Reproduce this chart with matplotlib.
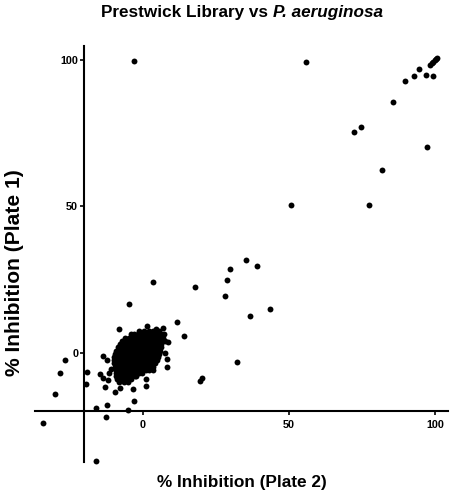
import matplotlib
matplotlib.use("Agg")
import matplotlib.pyplot as plt

plt.rcParams['font.family'] = ['Liberation Sans', 'DejaVu Sans']

# ---- data ----
# outlying compounds: % inhibition plate 2 (x) vs plate 1 (y)
out_x = [-3.0, 55.8, 98.3, 98.9, 99.4, 99.9, 100.3, 100.6, 94.5, 92.8, 97.0, 99.4,
         89.6, 85.5, 74.5, 72.4, 97.1, 81.9, 50.7, 77.4, 35.2, 39.2, 29.9, 28.8,
         17.9, 28.2, 43.4, 36.7, 14.1, 32.2, 20.2, 19.6, 3.3, -4.8, 11.6, -8.1,
         -26.7, -28.3, -29.9, -34.2, -19.2, -19.4, -15.9, -12.6, -12.4, -5.2,
         -3.1, -16.0, 1.1, 1.1, -3.4, -7.8, -9.5, -13.1, -13.6, -14.8, -11.8,
         -11.7, -11.0, -13.5, -12.4, 7.6, 8.2, 8.3, 7.6, 1.3, 4.5, 7.0, 8.7, 3.4]
out_y = [99.7, 99.4, 98.2, 98.9, 99.4, 99.9, 100.3, 100.6, 96.8, 94.6, 94.8, 94.4,
         92.7, 85.8, 77.2, 75.4, 70.4, 62.5, 50.6, 50.6, 31.5, 29.5, 28.7, 24.8,
         22.5, 19.2, 15.0, 12.5, 5.8, -3.1, -8.6, -9.8, 24.1, 16.7, 10.3, 8.2,
         -2.7, -6.9, -14.1, -24.1, -6.6, -10.9, -19.0, -22.1, -17.9, -19.6,
         -16.5, -37.1, -11.3, -9.2, -12.4, -12.0, -13.4, -11.8, -8.8, -7.2, -9.4,
         -7.0, -5.5, -1.3, -2.6, -0.1, -2.2, -5.0, 3.9, 9.0, 8.2, 8.4, 3.6, -5.8]

# dense core of inactive compounds, one list of x values per row of y
core_y = [7.3, 6.2, 5.1, 4.0, 2.9, 1.8, 0.7, -0.4, -1.5, -2.6, -3.7, -4.8,
          -5.9, -7.0, -8.1, -9.2, -10.0]
core_x = [
    [-1.4, 0.4, 2.1, 3.6, 5.6],
    [-4.2, -2.9, -1.6, -0.3, 1.0, 2.3, 3.6, 4.9, 6.2, 7.2],
    [-6.0, -4.8, -3.5, -2.2, -0.9, 0.4, 1.7, 3.0, 4.3, 5.6, 6.9],
    [-7.2, -6.0, -4.7, -3.4, -2.1, -0.8, 0.5, 1.8, 3.1, 4.4, 5.7, 6.6],
    [-7.9, -6.6, -5.3, -4.0, -2.7, -1.4, -0.1, 1.2, 2.5, 3.8, 5.1, 6.3],
    [-8.6, -7.4, -6.1, -4.8, -3.5, -2.2, -0.9, 0.4, 1.7, 3.0, 4.3, 5.6, 6.1],
    [-9.2, -8.0, -6.7, -5.4, -4.1, -2.8, -1.5, -0.2, 1.1, 2.4, 3.7, 5.0, 5.9],
    [-9.7, -8.4, -7.1, -5.8, -4.5, -3.2, -1.9, -0.6, 0.7, 2.0, 3.3, 4.6, 5.6],
    [-9.9, -8.6, -7.3, -6.0, -4.7, -3.4, -2.1, -0.8, 0.5, 1.8, 3.1, 4.3, 5.2],
    [-10.0, -8.8, -7.5, -6.2, -4.9, -3.6, -2.3, -1.0, 0.3, 1.6, 2.9, 4.1, 4.7],
    [-10.0, -8.6, -7.3, -6.0, -4.7, -3.4, -2.1, -0.8, 0.5, 1.8, 3.1, 4.1],
    [-9.6, -8.2, -6.9, -5.6, -4.3, -3.0, -1.7, -0.4, 0.9, 2.2, 3.3],
    [-9.2, -8.0, -6.7, -5.4, -4.1, -2.8, -1.5, -0.2, 1.1, 2.1],
    [-9.1, -7.8, -6.5, -5.2, -3.9, -2.6, -1.3, -0.2],
    [-9.1, -8.0, -6.7, -5.4, -4.1, -2.8, -2.2],
    [-8.8, -7.5, -6.2, -4.9, -4.0],
    [-8.3, -6.6, -5.2],
]

ticks = [0, 50, 100]
tick_labels = ["0", "50", "100"]
title_plain = "Prestwick Library vs"
title_italic = "P. aeruginosa"
xlabel = "% Inhibition (Plate 2)"
ylabel = "% Inhibition (Plate 1)"

# ---- figure ----
W, H = 453, 494
fig = plt.figure(figsize=(W / 100, H / 100), dpi=100)
ax = fig.add_axes([35 / W, (H - 461.7) / H, 413.3 / W, 415.7 / H])

all_x = list(out_x)
all_y = list(out_y)
for yv, xs in zip(core_y, core_x):
    all_x.extend(xs)
    all_y.extend([yv] * len(xs))

ax.scatter(all_x, all_y, s=18, c='black', linewidths=0, zorder=3, clip_on=False)

ax.set_xlim(-36.9, 104.5)
ax.set_ylim(-37.3, 104.8)
for s in ['top', 'right']:
    ax.spines[s].set_visible(False)
ax.spines['left'].set_position(('data', -20))
ax.spines['bottom'].set_position(('data', -20))
for s in ['left', 'bottom']:
    ax.spines[s].set_linewidth(1.5)

ax.set_xticks(ticks)
ax.set_xticklabels(tick_labels)
ax.set_yticks(ticks)
ax.set_yticklabels(tick_labels)
ax.tick_params(axis='both', direction='out', length=3, width=1.2, labelsize=7.8)
ax.tick_params(axis='x', pad=3.5)
ax.tick_params(axis='y', pad=1.5)
for lab in ax.get_xticklabels() + ax.get_yticklabels():
    lab.set_fontweight('bold')

fig.text(241.7 / W, (H - 487.3) / H, xlabel, ha='center', va='baseline',
         fontsize=12.4, fontweight='bold')
fig.text(20 / W, (H - 272.5) / H, ylabel, ha='center', va='baseline',
         rotation=90, rotation_mode='anchor', fontsize=15.1, fontweight='bold')

# title in two parts (species name in italics), centred over the axes
ty = (H - 16.5) / H
t1 = fig.text(0, ty, title_plain, ha='left', va='baseline', fontsize=12.3,
              fontweight='bold')
t2 = fig.text(0, ty, title_italic, ha='left', va='baseline', fontsize=12.3,
              fontweight='bold', fontstyle='italic')
r = fig.canvas.get_renderer()
w1 = t1.get_window_extent(r).width
w2 = t2.get_window_extent(r).width
gap = 0.278 * 12.3 * 100 / 72
x0 = 241.7 - (w1 + gap + w2) / 2
t1.set_x(x0 / W)
t2.set_x((x0 + w1 + gap) / W)

fig.savefig("out.png", dpi=100)
